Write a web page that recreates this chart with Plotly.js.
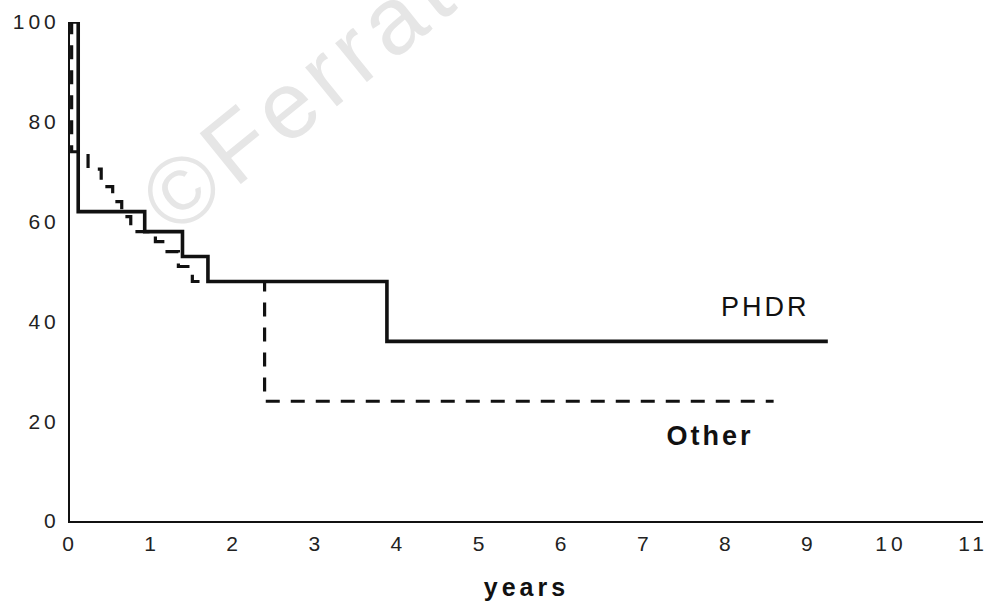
<!DOCTYPE html>
<html>
<head>
<meta charset="utf-8">
<script src="https://cdn.plot.ly/plotly-3.0.1.min.js"></script>
<style>
  html, body { margin: 0; padding: 0; background: #fff; }
  #chart { width: 997px; height: 601px; }
  #chart .xtick text, #chart .ytick text { letter-spacing: 4px; }
  #chart .xtitle { letter-spacing: 4px; }
</style>
</head>
<body>
<div id="chart"></div>
<script>
// Step curves (years, % surviving)
const phdrYears  = [0, 0.1, 0.91, 1.37, 1.68, 3.86, 9.23];
const phdrValues = [100, 62, 58, 53, 48, 36, 36];

const otherYears  = [0, 0.02, 0.22, 0.38, 0.52, 0.63, 0.74, 1.04, 1.13, 1.32, 1.49, 2.37, 8.57];
const otherValues = [100, 74, 70.5, 67, 64, 61, 58, 56, 54, 51, 48, 24, 24];

const xTicks = [0, 1, 2, 3, 4, 5, 6, 7, 8, 9, 10, 11];
const yTicks = [0, 20, 40, 60, 80, 100];

const seriesLabels = ["PHDR", "Other"];
const xTitle = "years";
const watermark = "©Ferrata";

const FONT = "Liberation Sans, Arial, sans-serif";
const tickFont = { family: FONT, size: 21, color: "#222" };

const traces = [
  {
    x: phdrYears, y: phdrValues, type: "scatter", mode: "lines",
    line: { shape: "hv", color: "#111", width: 3.6 },
    name: seriesLabels[0], showlegend: false, cliponaxis: false
  },
  {
    x: otherYears, y: otherValues, type: "scatter", mode: "lines",
    line: { shape: "hv", color: "#111", width: 3.2, dash: "14px,11px" },
    name: seriesLabels[1], showlegend: false, cliponaxis: false
  }
];

const layout = {
  width: 997, height: 601,
  margin: { l: 70, r: 14, t: 22, b: 80 },
  paper_bgcolor: "#fff", plot_bgcolor: "#fff",
  showlegend: false,
  xaxis: {
    range: [0, 11.12], tickvals: xTicks, ticktext: xTicks.map(String),
    showgrid: false, zeroline: false, showline: true, linecolor: "#111", linewidth: 2,
    ticks: "", ticklabelstandoff: 3, tickfont: tickFont,
    title: { text: xTitle, font: { family: FONT, size: 25, color: "#111", weight: "bold" }, standoff: 27 },
    automargin: false, fixedrange: true
  },
  yaxis: {
    range: [0, 100], tickvals: yTicks, ticktext: yTicks.map(String),
    showgrid: false, zeroline: false, showline: true, linecolor: "#111", linewidth: 2,
    ticks: "", ticklabelstandoff: 4, tickfont: tickFont,
    automargin: false, fixedrange: true
  },
  annotations: [
    {
      text: watermark, xref: "paper", yref: "paper",
      x: (322 - 70) / 913, y: (521 - 76) / 499,
      showarrow: false, textangle: -39,
      font: { family: FONT, size: 95, color: "#e6e6e6" },
      xanchor: "center", yanchor: "middle"
    },
    {
      text: seriesLabels[0], x: 8.47, y: 42.8, xref: "x", yref: "y", showarrow: false,
      font: { family: FONT, size: 27, color: "#111" },
      xanchor: "center", yanchor: "middle"
    },
    {
      text: seriesLabels[1], x: 7.8, y: 17.0, xref: "x", yref: "y", showarrow: false,
      font: { family: FONT, size: 27, color: "#111", weight: "bold" },
      xanchor: "center", yanchor: "middle"
    }
  ]
};

Plotly.newPlot("chart", traces, layout, { displayModeBar: false, staticPlot: true }).then(function () {
  document.querySelectorAll("#chart .annotation-text").forEach(function (t) {
    if (t.textContent === seriesLabels[0] || t.textContent === seriesLabels[1]) {
      t.style.letterSpacing = "3px";
    } else if (t.textContent === watermark) {
      t.style.letterSpacing = "7px";
    }
  });
});
</script>
</body>
</html>
